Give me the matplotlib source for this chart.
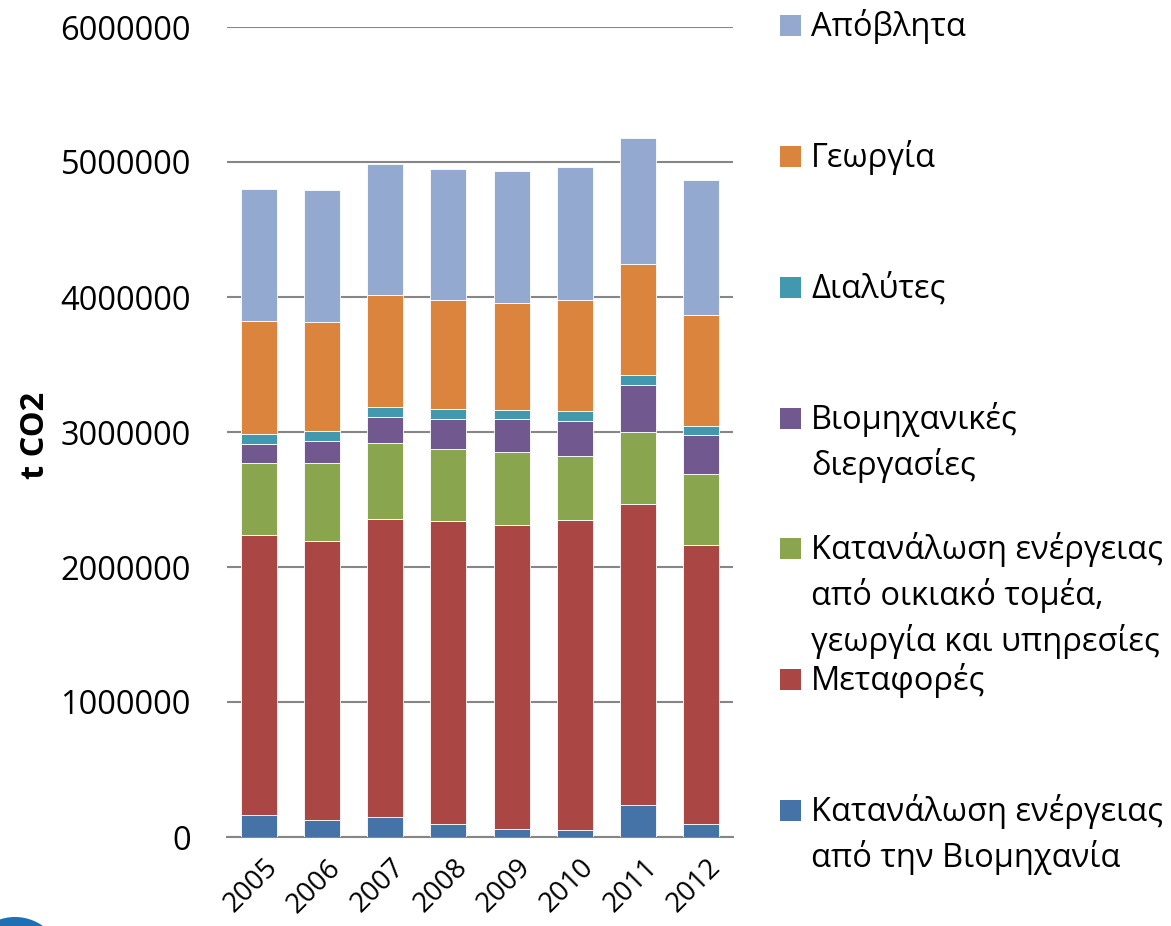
import numpy as np
import matplotlib.pyplot as plt
from matplotlib.patches import Rectangle, Ellipse

plt.rcParams['font.family'] = ['Open Sans', 'DejaVu Sans']

# -------------------------------
# Data (t CO2)
# -------------------------------
years = ["2005", "2006", "2007", "2008", "2009", "2010", "2011", "2012"]

industry_energy = [161000, 124000, 150000, 99000, 59000, 54000, 237000, 99000]
transport = [2078000, 2069000, 2208000, 2244000, 2252000, 2296000, 2227000, 2066000]
residential_energy = [531000, 577000, 561000, 531000, 539000, 472000, 534000, 524000]
industrial_processes = [139000, 166000, 190000, 220000, 244000, 257000, 352000, 287000]
solvents = [74000, 71000, 74000, 74000, 71000, 74000, 72000, 71000]
agriculture = [841000, 806000, 832000, 812000, 793000, 827000, 825000, 817000]
waste = [978000, 982000, 968000, 971000, 975000, 985000, 933000, 1005000]

series = [
    ("Κατανάλωση ενέργειας\nαπό την Βιομηχανία", industry_energy, "#4572A7"),
    ("Μεταφορές", transport, "#AA4643"),
    ("Κατανάλωση ενέργειας\nαπό οικιακό τομέα,\nγεωργία και υπηρεσίες", residential_energy, "#89A54E"),
    ("Βιομηχανικές\nδιεργασίες", industrial_processes, "#71588F"),
    ("Διαλύτες", solvents, "#4198AF"),
    ("Γεωργία", agriculture, "#DB843D"),
    ("Απόβλητα", waste, "#93A9CF"),
]

# -------------------------------
# Figure
# -------------------------------
W, H = 1171, 926
fig = plt.figure(figsize=(W / 100, H / 100), dpi=100)
ax = fig.add_axes([227 / W, 1 - 837 / H, 506 / W, 810 / H])

x = np.arange(len(years))
bottom = np.zeros(len(years))
for label, vals, color in series:
    ax.bar(x, vals, width=0.57, bottom=bottom, color=color,
           edgecolor="white", linewidth=0.6, zorder=3)
    bottom += np.array(vals)

ax.set_xlim(-0.5, len(years) - 0.5)
ax.set_ylim(0, 6000000)
ax.set_yticks(np.arange(0, 6000001, 1000000))
ax.set_yticklabels([str(v) for v in range(0, 6000001, 1000000)], fontsize=23.5)
ax.tick_params(axis="y", length=0, pad=26)
ax.tick_params(axis="x", length=0, pad=12)
ax.set_xticks(x + 0.08)
ax.set_xticklabels(years, fontsize=20, rotation=45, ha="right",
                   rotation_mode="anchor")

ax.yaxis.grid(True, color="#868686", linewidth=1.5, zorder=0)
ax.set_axisbelow(True)
for side in ["left", "right", "top"]:
    ax.spines[side].set_visible(False)
ax.spines["bottom"].set_color("#868686")
ax.spines["bottom"].set_linewidth(1.5)

fig.text(35 / W, 1 - 435 / H, "t CO2", rotation=90, fontsize=23.5,
         fontweight="bold", ha="center", va="center")

# -------------------------------
# Legend (manual, right side)
# -------------------------------
legend_rows = [
    ("Απόβλητα", "#93A9CF", 25),
    ("Γεωργία", "#DB843D", 156),
    ("Διαλύτες", "#4198AF", 287),
    ("Βιομηχανικές\nδιεργασίες", "#71588F", 418),
    ("Κατανάλωση ενέργειας\nαπό οικιακό τομέα,\nγεωργία και υπηρεσίες", "#89A54E", 548),
    ("Μεταφορές", "#AA4643", 679),
    ("Κατανάλωση ενέργειας\nαπό την Βιομηχανία", "#4572A7", 810),
]
for text, color, yc in legend_rows:
    fig.add_artist(Rectangle((780 / W, 1 - (yc + 10.5) / H), 21 / W, 21 / H,
                             transform=fig.transFigure, facecolor=color,
                             edgecolor="none"))
    for i, line in enumerate(text.split("\n")):
        fig.text(811 / W, 1 - (yc + 11 + 46 * i) / H, line, fontsize=23.5,
                 ha="left", va="baseline")

# logo fragment at bottom-left
fig.add_artist(Ellipse((15 / W, 1 - 965 / H), 96 / W, 96 / H,
                       transform=fig.transFigure, facecolor="#1f6fb5",
                       edgecolor="none"))

fig.savefig("out.png", dpi=100)
